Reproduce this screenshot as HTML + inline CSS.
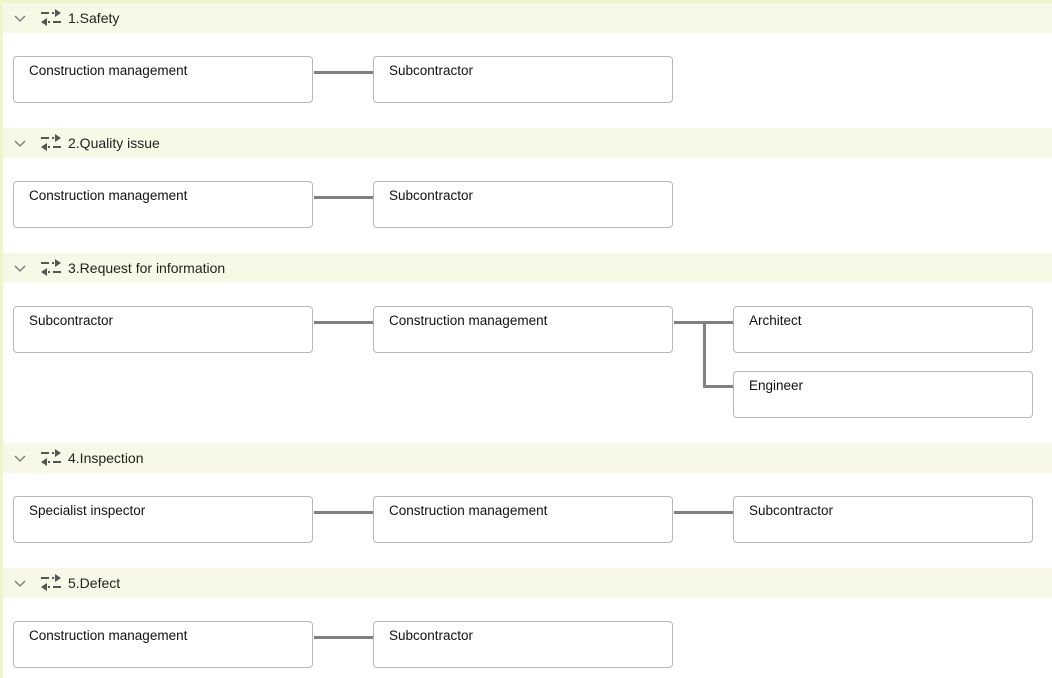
<!DOCTYPE html>
<html><head><meta charset="utf-8"><style>
body{margin:0;width:1052px;height:678px;background:#fff;position:relative;overflow:hidden;font-family:"Liberation Sans",Arial,sans-serif;}
.edge{position:absolute;background:#eff5c6;}
.hd{position:absolute;left:3px;width:1049px;height:30px;background:#f7f9e6;}
.hd .t{position:absolute;left:65px;top:7px;font-size:14px;color:#222;}
.hd .chev{position:absolute;left:10px;top:6px;}
.hd .ic{position:absolute;left:37px;top:5px;}
.b{position:absolute;width:298px;height:45px;border:1px solid #b8b8b8;border-radius:4px;background:#fff;box-sizing:content-box;}
.b span{position:absolute;left:15px;top:6px;font-size:13.5px;color:#111;}
.h{position:absolute;height:3px;background:#808080;}
.v{position:absolute;width:3px;background:#808080;}
</style></head><body>
<div class="edge" style="left:0;top:0;width:3px;height:678px"></div>
<div class="edge" style="left:0;top:0;width:1052px;height:3px"></div>

<div class="hd" style="top:3px"><svg class="chev" width="14" height="18"><path d="M2 7 L7 12 L12 7" fill="none" stroke="#777" stroke-width="1.3"/></svg><svg class="ic" width="22" height="20"><path d="M1 5 H9 M12 5 H14 M17 5 H19" stroke="#555" stroke-width="2"/><path d="M15 1 L21 5 L15 9" fill="#555"/><path d="M21 14 H13 M10 14 H8 M5 14 H3" stroke="#555" stroke-width="2"/><path d="M7 10 L1 14 L7 18" fill="#555"/></svg><span class="t">1.Safety</span></div>
<div class="hd" style="top:128px"><svg class="chev" width="14" height="18"><path d="M2 7 L7 12 L12 7" fill="none" stroke="#777" stroke-width="1.3"/></svg><svg class="ic" width="22" height="20"><path d="M1 5 H9 M12 5 H14 M17 5 H19" stroke="#555" stroke-width="2"/><path d="M15 1 L21 5 L15 9" fill="#555"/><path d="M21 14 H13 M10 14 H8 M5 14 H3" stroke="#555" stroke-width="2"/><path d="M7 10 L1 14 L7 18" fill="#555"/></svg><span class="t">2.Quality issue</span></div>
<div class="hd" style="top:253px"><svg class="chev" width="14" height="18"><path d="M2 7 L7 12 L12 7" fill="none" stroke="#777" stroke-width="1.3"/></svg><svg class="ic" width="22" height="20"><path d="M1 5 H9 M12 5 H14 M17 5 H19" stroke="#555" stroke-width="2"/><path d="M15 1 L21 5 L15 9" fill="#555"/><path d="M21 14 H13 M10 14 H8 M5 14 H3" stroke="#555" stroke-width="2"/><path d="M7 10 L1 14 L7 18" fill="#555"/></svg><span class="t">3.Request for information</span></div>
<div class="hd" style="top:443px"><svg class="chev" width="14" height="18"><path d="M2 7 L7 12 L12 7" fill="none" stroke="#777" stroke-width="1.3"/></svg><svg class="ic" width="22" height="20"><path d="M1 5 H9 M12 5 H14 M17 5 H19" stroke="#555" stroke-width="2"/><path d="M15 1 L21 5 L15 9" fill="#555"/><path d="M21 14 H13 M10 14 H8 M5 14 H3" stroke="#555" stroke-width="2"/><path d="M7 10 L1 14 L7 18" fill="#555"/></svg><span class="t">4.Inspection</span></div>
<div class="hd" style="top:568px"><svg class="chev" width="14" height="18"><path d="M2 7 L7 12 L12 7" fill="none" stroke="#777" stroke-width="1.3"/></svg><svg class="ic" width="22" height="20"><path d="M1 5 H9 M12 5 H14 M17 5 H19" stroke="#555" stroke-width="2"/><path d="M15 1 L21 5 L15 9" fill="#555"/><path d="M21 14 H13 M10 14 H8 M5 14 H3" stroke="#555" stroke-width="2"/><path d="M7 10 L1 14 L7 18" fill="#555"/></svg><span class="t">5.Defect</span></div>

<div class="b" style="left:13px;top:56px"><span>Construction management</span></div>
<div class="h" style="left:314px;top:71px;width:59px"></div>
<div class="b" style="left:373px;top:56px"><span>Subcontractor</span></div>

<div class="b" style="left:13px;top:181px"><span>Construction management</span></div>
<div class="h" style="left:314px;top:196px;width:59px"></div>
<div class="b" style="left:373px;top:181px"><span>Subcontractor</span></div>

<div class="b" style="left:13px;top:306px"><span>Subcontractor</span></div>
<div class="h" style="left:314px;top:321px;width:59px"></div>
<div class="b" style="left:373px;top:306px"><span>Construction management</span></div>
<div class="h" style="left:674px;top:321px;width:59px"></div>
<div class="v" style="left:703px;top:321px;height:67px"></div>
<div class="h" style="left:703px;top:385px;width:30px"></div>
<div class="b" style="left:733px;top:306px"><span>Architect</span></div>
<div class="b" style="left:733px;top:371px"><span>Engineer</span></div>

<div class="b" style="left:13px;top:496px"><span>Specialist inspector</span></div>
<div class="h" style="left:314px;top:511px;width:59px"></div>
<div class="b" style="left:373px;top:496px"><span>Construction management</span></div>
<div class="h" style="left:674px;top:511px;width:59px"></div>
<div class="b" style="left:733px;top:496px"><span>Subcontractor</span></div>

<div class="b" style="left:13px;top:621px"><span>Construction management</span></div>
<div class="h" style="left:314px;top:636px;width:59px"></div>
<div class="b" style="left:373px;top:621px"><span>Subcontractor</span></div>
</body></html>
